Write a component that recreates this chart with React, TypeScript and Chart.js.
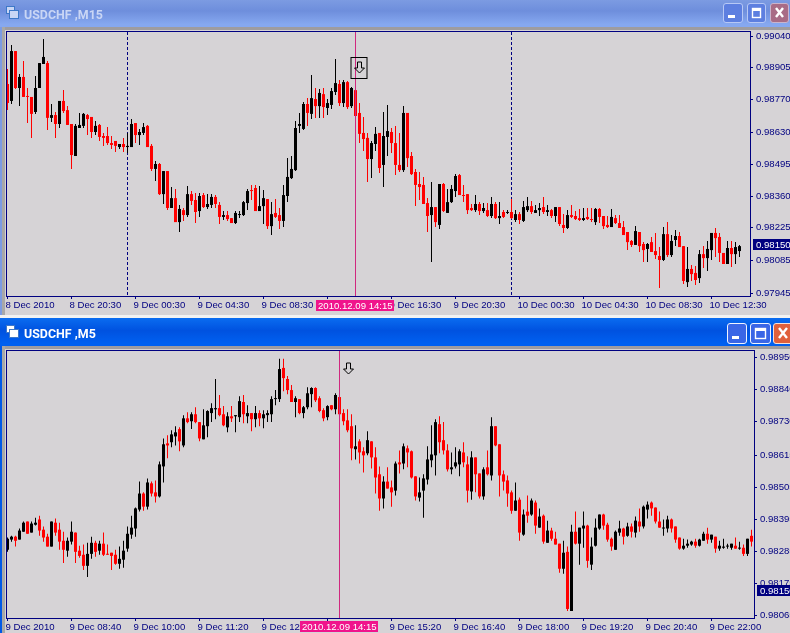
import React, { useEffect, useRef } from "react";
import { Chart, registerables } from "chart.js";

Chart.register(...registerables);

// Prices in points (1/100000).
const m15Open = [98836,98764,98976,98819,98866,98785,98781,98717,98819,98921,
98925,98692,98704,98666,98764,98725,98666,98530,98649,98658,
98704,98696,98632,98662,98615,98615,98585,98594,98568,98581,
98568,98568,98670,98619,98628,98658,98573,98475,98496,98368,
98466,98309,98351,98249,98300,98279,98368,98343,98296,98364,
98313,98322,98356,98322,98271,98279,98266,98245,98279,98279,
98330,98385,98394,98296,98317,98347,98232,98288,98279,98254,
98360,98436,98470,98658,98645,98751,98709,98772,98742,98793,
98734,98747,98802,98836,98755,98844,98742,98810,98713,98628,
98607,98517,98581,98628,98492,98611,98632,98585,98492,98470,
98713,98530,98462,98411,98407,98330,98279,98313,98237,98411,
98288,98334,98381,98449,98364,98368,98309,98300,98326,98296,
98300,98275,98326,98266,98292,98288,98292,98258,98283,98254,
98300,98317,98288,98300,98313,98292,98300,98275,98313,98237,
98224,98279,98275,98266,98258,98271,98262,98249,98305,98275,
98237,98228,98266,98245,98228,98207,98169,98152,98207,98156,
98135,98164,98126,98105,98088,98198,98109,98173,98190,98147,
97994,98050,98033,98011,98113,98096,98130,98203,98186,98118,
98071,98139,98113,98126];
const m15High = [98900,99002,98976,98878,98934,98819,98781,98870,98925,99027,
98934,98751,98717,98764,98810,98742,98666,98666,98713,98713,
98709,98696,98679,98666,98628,98653,98615,98594,98581,98607,
98628,98687,98670,98645,98670,98662,98581,98509,98500,98466,
98466,98398,98390,98322,98309,98402,98381,98373,98373,98373,
98368,98368,98364,98334,98296,98296,98266,98296,98296,98339,
98390,98407,98407,98402,98385,98347,98334,98347,98309,98407,
98521,98530,98679,98713,98759,98776,98874,98819,98815,98819,
98772,98819,98942,98853,98853,98849,98823,98810,98755,98696,
98628,98594,98653,98628,98717,98747,98649,98658,98628,98742,
98713,98547,98475,98462,98441,98351,98419,98313,98411,98415,
98390,98407,98453,98453,98407,98368,98326,98364,98334,98330,
98330,98356,98334,98334,98300,98300,98347,98300,98292,98339,
98356,98339,98322,98330,98356,98322,98305,98313,98313,98283,
98300,98322,98296,98305,98309,98309,98309,98309,98309,98275,
98275,98305,98279,98279,98254,98207,98173,98232,98207,98164,
98160,98186,98203,98143,98228,98249,98194,98215,98207,98147,
98143,98067,98062,98130,98147,98169,98203,98224,98203,98118,
98169,98169,98164,98152];
const m15Low = [98725,98751,98815,98742,98781,98670,98607,98709,98819,98921,
98640,98675,98607,98649,98713,98662,98475,98530,98649,98649,
98619,98607,98619,98594,98573,98577,98560,98547,98560,98547,
98543,98568,98585,98577,98619,98568,98466,98424,98364,98326,
98300,98309,98249,98207,98254,98271,98322,98245,98271,98309,
98305,98309,98309,98241,98258,98254,98245,98241,98266,98275,
98300,98343,98296,98296,98241,98220,98194,98266,98220,98228,
98334,98432,98466,98628,98640,98658,98687,98692,98692,98692,
98704,98730,98789,98742,98738,98730,98734,98700,98585,98551,
98419,98436,98551,98458,98398,98530,98543,98449,98462,98462,
98483,98449,98317,98343,98326,98207,98079,98228,98220,98292,
98288,98330,98356,98364,98334,98283,98296,98292,98279,98288,
98271,98266,98262,98241,98266,98283,98262,98249,98241,98249,
98292,98283,98288,98275,98283,98275,98266,98249,98232,98203,
98220,98266,98258,98254,98254,98258,98249,98237,98245,98220,
98224,98228,98241,98224,98194,98130,98143,98152,98122,98079,
98079,98122,98092,97969,98084,98101,98101,98147,98143,97986,
97973,97999,97982,97990,98054,98041,98088,98101,98079,98071,
98071,98058,98071,98101];
const m15Close = [98755,98976,98819,98866,98781,98781,98709,98819,98925,98951,
98692,98704,98666,98764,98721,98662,98534,98658,98662,98709,
98687,98632,98658,98611,98607,98585,98577,98573,98581,98568,
98573,98666,98619,98632,98653,98568,98475,98496,98368,98466,
98309,98351,98249,98305,98279,98368,98339,98292,98360,98313,
98326,98356,98326,98271,98279,98262,98245,98288,98283,98334,
98381,98381,98296,98317,98351,98232,98283,98271,98254,98364,
98441,98475,98649,98666,98751,98713,98776,98742,98798,98738,
98755,98806,98840,98755,98844,98738,98819,98700,98624,98602,
98517,98585,98624,98479,98615,98636,98585,98492,98470,98713,
98521,98453,98407,98398,98326,98275,98313,98249,98411,98296,
98334,98390,98445,98364,98360,98300,98300,98326,98296,98309,
98275,98326,98266,98275,98271,98292,98266,98283,98258,98313,
98317,98292,98300,98309,98292,98300,98275,98313,98241,98224,
98279,98271,98262,98258,98266,98262,98258,98305,98271,98232,
98228,98271,98245,98224,98194,98164,98152,98211,98147,98130,
98156,98122,98109,98088,98198,98109,98169,98190,98143,97999,
98050,98028,98003,98113,98096,98135,98203,98181,98118,98071,
98139,98113,98143,98147];
const m15TickLabels = ["8 Dec 2010","8 Dec 20:30","9 Dec 00:30","9 Dec 04:30","9 Dec 08:30","9 Dec 12:30","9 Dec 16:30","9 Dec 20:30","10 Dec 00:30","10 Dec 04:30","10 Dec 08:30","10 Dec 12:30"];
const m15PriceTicks = [99040,98905,98770,98630,98495,98360,98225,98085,97945];
const m15Separators = [30, 126];

const m5Open = [98291,98326,98336,98326,98353,98388,98350,98377,98395,98360,
98336,98302,98384,98360,98322,98288,98319,98350,98288,98274,
98236,98277,98315,98288,98312,98277,98281,98274,98243,98257,
98295,98343,98364,98429,98484,98439,98519,98488,98474,98577,
98656,98660,98680,98705,98649,98742,98732,98756,98729,98670,
98715,98760,98773,98777,98756,98711,98749,98749,98746,98798,
98749,98760,98739,98760,98742,98753,98756,98808,98808,98915,
98877,98839,98798,98808,98760,98780,98825,98846,98811,98770,
98746,98787,98773,98815,98760,98735,98715,98636,98663,98629,
98622,98663,98608,98550,98467,98525,98505,98494,98591,98587,
98639,98629,98543,98470,98494,98532,98598,98615,98722,98667,
98632,98567,98577,98584,98625,98584,98491,98608,98553,98474,
98574,98546,98715,98653,98550,98529,98488,98425,98463,98343,
98422,98412,98453,98367,98408,98315,98357,98329,98312,98226,
98284,98081,98353,98312,98364,98374,98240,98305,98364,98412,
98377,98329,98291,98350,98364,98339,98371,98350,98388,98371,
98429,98453,98436,98388,98364,98364,98395,98371,98333,98295,
98305,98309,98319,98305,98322,98346,98326,98336,98295,98298,
98302,98298,98305,98295,98298,98277,98339];
const m5High = [98333,98339,98339,98364,98388,98388,98388,98401,98408,98371,
98346,98388,98398,98384,98353,98333,98388,98350,98305,98309,
98315,98336,98322,98322,98350,98309,98281,98291,98302,98322,
98371,98408,98436,98525,98488,98536,98525,98529,98594,98673,
98684,98701,98715,98711,98753,98763,98763,98780,98729,98773,
98770,98794,98877,98822,98784,98763,98784,98753,98818,98822,
98787,98760,98784,98770,98770,98770,98818,98839,98946,98946,
98887,98856,98818,98808,98784,98849,98849,98849,98818,98777,
98787,98787,98828,98815,98773,98773,98756,98718,98670,98643,
98698,98663,98643,98577,98543,98574,98529,98594,98632,98656,
98649,98632,98543,98539,98550,98646,98718,98739,98749,98729,
98653,98625,98643,98636,98660,98612,98629,98608,98553,98574,
98632,98746,98715,98653,98563,98546,98494,98522,98470,98429,
98477,98467,98460,98433,98412,98391,98367,98353,98312,98322,
98302,98377,98422,98367,98422,98377,98333,98398,98412,98415,
98384,98333,98357,98391,98367,98384,98381,98405,98433,98443,
98457,98457,98436,98422,98395,98408,98398,98371,98333,98329,
98326,98322,98329,98329,98353,98367,98343,98336,98322,98329,
98312,98312,98333,98319,98309,98329,98360];
const m5Low = [98284,98319,98302,98326,98353,98346,98350,98374,98339,98319,
98302,98302,98339,98291,98246,98267,98309,98246,98264,98222,
98198,98260,98267,98274,98270,98274,98222,98240,98226,98229,
98284,98329,98336,98422,98425,98429,98474,98453,98470,98522,
98605,98643,98649,98629,98643,98725,98705,98725,98663,98670,
98677,98729,98739,98749,98715,98694,98729,98694,98729,98725,
98725,98698,98711,98715,98708,98729,98729,98787,98798,98835,
98825,98798,98746,98756,98742,98773,98780,98798,98763,98732,
98735,98770,98756,98756,98718,98694,98598,98601,98587,98556,
98615,98570,98484,98425,98433,98501,98439,98477,98553,98567,
98574,98536,98460,98457,98401,98515,98574,98546,98622,98618,
98560,98550,98570,98543,98574,98453,98463,98488,98467,98463,
98546,98529,98646,98474,98494,98439,98415,98425,98322,98339,
98384,98408,98346,98367,98312,98315,98322,98309,98212,98209,
98081,98081,98309,98240,98298,98229,98222,98302,98360,98360,
98319,98288,98291,98339,98309,98336,98333,98333,98353,98364,
98398,98408,98381,98367,98339,98350,98350,98315,98291,98291,
98298,98305,98298,98302,98322,98312,98315,98281,98288,98295,
98295,98291,98295,98291,98270,98270,98302];
const m5Close = [98329,98336,98322,98357,98384,98346,98381,98384,98357,98333,
98302,98388,98350,98319,98291,98322,98353,98284,98270,98236,
98277,98315,98284,98312,98274,98274,98270,98243,98260,98288,
98346,98367,98433,98484,98439,98522,98484,98474,98584,98653,
98649,98687,98694,98663,98742,98729,98756,98729,98673,98718,
98767,98777,98777,98753,98718,98749,98742,98753,98801,98756,
98760,98739,98760,98742,98756,98760,98808,98811,98911,98880,
98839,98798,98811,98760,98780,98828,98846,98804,98767,98742,
98784,98773,98822,98756,98732,98701,98639,98646,98625,98615,
98667,98608,98539,98467,98525,98501,98488,98587,98584,98646,
98625,98539,98474,98488,98536,98601,98618,98729,98660,98632,
98567,98574,98591,98629,98591,98494,98608,98550,98474,98567,
98550,98715,98649,98546,98525,98484,98425,98460,98350,98412,
98408,98460,98374,98405,98319,98357,98329,98309,98226,98281,
98088,98353,98312,98367,98374,98253,98302,98367,98412,98374,
98326,98302,98353,98364,98336,98371,98353,98391,98371,98439,
98446,98433,98388,98367,98367,98395,98364,98326,98295,98305,
98312,98319,98305,98326,98346,98326,98343,98295,98305,98302,
98305,98312,98295,98298,98277,98329,98319];
const m5TickLabels = ["9 Dec 2010","9 Dec 08:40","9 Dec 10:00","9 Dec 11:20","9 Dec 12:40","9 Dec 14:00","9 Dec 15:20","9 Dec 16:40","9 Dec 18:00","9 Dec 19:20","9 Dec 20:40","9 Dec 22:00"];
const m5PriceTicks = [98950,98840,98730,98615,98505,98395,98285,98175,98065];

const NAVY = "#000080";
const BG = "#D6D3D6";
const PINK = "#F0148C";
const MARKER = "#D0287F";
const FONT_SIZE = 9.6;
const FONT = `${FONT_SIZE}px 'Liberation Sans'`;

type ChartCfg = {
  opens: number[]; highs: number[]; lows: number[]; closes: number[];
  tickLabels: string[]; priceTicks: number[];
  yMin: number; yMax: number; xMax: number;
  top: number; xHeight: number; yWidth: number;
  separators: number[]; crossIndex: number; crossLabel: string;
  lastPrice: number; tagLeft: number;
  arrowDx: number; arrowY: number; arrowBox: boolean; crossLabelLeft: number; crossLabelY: number;
};

function drawChart(canvas: HTMLCanvasElement, c: ChartCfg) {
  const col = c.opens.map((o, i) => (c.closes[i] >= o ? "#000000" : "#FF0000"));
  const overlay = {
    id: "overlay",
    beforeDatasetsDraw(chart: any) {
      const { ctx, chartArea: a, scales } = chart;
      ctx.save();
      ctx.strokeStyle = NAVY;
      ctx.lineWidth = 1;
      ctx.setLineDash([3, 2]);
      c.separators.forEach((s) => {
        const x = Math.floor(scales.x.getPixelForValue(s)) + 0.5;
        ctx.beginPath(); ctx.moveTo(x, a.top); ctx.lineTo(x, a.bottom); ctx.stroke();
      });
      ctx.restore();
    },
    afterDatasetsDraw(chart: any) {
      const { ctx, chartArea: a, scales, width } = chart;
      ctx.save();
      ctx.strokeStyle = NAVY;
      ctx.lineWidth = 1;
      ctx.strokeRect(a.left - 0.5, a.top - 0.5, a.right - a.left + 1, a.bottom - a.top + 1);
      const cx = Math.floor(scales.x.getPixelForValue(c.crossIndex)) + 0.5;
      ctx.strokeStyle = MARKER;
      ctx.beginPath(); ctx.moveTo(cx, a.top); ctx.lineTo(cx, a.bottom); ctx.stroke();
      // arrow mark
      const ax = cx + c.arrowDx, ay = c.arrowY;
      ctx.strokeStyle = "#000";
      if (c.arrowBox) ctx.strokeRect(ax - 6.5 + 0, ay - 4.5, 16, 21);
      ctx.beginPath();
      ctx.moveTo(ax - 0, ay); ctx.lineTo(ax + 4, ay); ctx.lineTo(ax + 4, ay + 6); ctx.lineTo(ax + 7, ay + 6);
      ctx.lineTo(ax + 2, ay + 11); ctx.lineTo(ax - 3, ay + 6); ctx.lineTo(ax, ay + 6); ctx.closePath();
      ctx.stroke();
      // pink date box
      ctx.font = FONT;
      ctx.textBaseline = "middle";
      ctx.textAlign = "left";
      ctx.fillStyle = PINK;
      ctx.fillRect(c.crossLabelLeft, c.crossLabelY, 78, 11);
      ctx.fillStyle = "#fff";
      ctx.fillText(c.crossLabel, c.crossLabelLeft + 2, c.crossLabelY + 6);
      // last price tag
      const ty = Math.round(scales.y.getPixelForValue(c.lastPrice));
      ctx.fillStyle = NAVY;
      ctx.fillRect(c.tagLeft, ty - 6, width - c.tagLeft, 11);
      ctx.fillStyle = "#fff";
      ctx.fillText((c.lastPrice / 100000).toFixed(5), c.tagLeft + 3, ty);
      ctx.restore();
    },
  };
  return new Chart(canvas, {
    type: "bar",
    data: {
      datasets: [
        {
          label: "range",
          data: c.highs.map((h, i) => ({ x: i, y: [c.lows[i], h] })),
          backgroundColor: col, barThickness: 1, grouped: false, order: 2,
          inflateAmount: 0, borderWidth: 0, minBarLength: 1,
        },
        {
          label: "body",
          data: c.opens.map((o, i) => ({ x: i, y: [o, c.closes[i]] })),
          backgroundColor: col, barThickness: 3, grouped: false, order: 1,
          inflateAmount: 0, borderWidth: 0, minBarLength: 1,
        },
      ],
    } as any,
    plugins: [overlay],
    options: {
      animation: false,
      responsive: false,
      devicePixelRatio: 1,
      layout: { padding: { left: 7, top: c.top, right: 0, bottom: 0 } },
      plugins: { legend: { display: false }, tooltip: { enabled: false } },
      scales: {
        x: {
          type: "linear",
          offset: false,
          min: -0.125,
          max: c.xMax,
          afterFit: (s: any) => { s.height = c.xHeight; },
          afterBuildTicks: (s: any) => { s.ticks = c.tickLabels.map((_, k) => ({ value: k * 16 })); },
          border: { display: false },
          grid: { drawOnChartArea: false, drawTicks: true, tickLength: 3, color: NAVY, offset: false },
          ticks: {
            autoSkip: false, maxRotation: 0, minRotation: 0, align: "start", padding: 1, labelOffset: -2,
            color: NAVY, font: { family: "'Liberation Sans'", size: FONT_SIZE },
            callback: (v: any) => c.tickLabels[Math.round(v / 16)],
          },
        },
        y: {
          position: "right",
          min: c.yMin,
          max: c.yMax,
          afterFit: (s: any) => { s.width = c.yWidth; },
          afterBuildTicks: (s: any) => { s.ticks = c.priceTicks.map((value) => ({ value })); },
          border: { display: false },
          grid: { drawOnChartArea: false, drawTicks: true, tickLength: 3, color: NAVY },
          ticks: {
            autoSkip: false, padding: 3, color: NAVY, font: { family: "'Liberation Sans'", size: FONT_SIZE },
            callback: (v: any) => (v / 100000).toFixed(5),
          },
        },
      },
    } as any,
  });
}

const box = (l: number, t: number, w: number, h: number, extra: React.CSSProperties = {}): React.CSSProperties => ({
  position: "absolute", left: l, top: t, width: w, height: h, ...extra,
});

function WinIcon({ top, pale }: { top: number; pale: boolean }) {
  const c1 = pale ? "#C9D6F5" : "#FFFFFF";
  return (
    <>
      <div style={box(6, top + 6, 9, 8, { background: c1, border: "1px solid #3E78C8", boxSizing: "border-box" })} />
      <div style={box(9, top + 10, 10, 9, { background: c1, border: "1px solid #3E78C8", boxSizing: "border-box" })} />
    </>
  );
}

function Btn({ l, t, w, h, bg, edge, glyph }: { l: number; t: number; w: number; h: number; bg: string; edge: string; glyph: "min" | "max" | "x" }) {
  return (
    <div style={box(l, t, w, h, { background: bg, border: `1px solid ${edge}`, borderRadius: 3, boxSizing: "border-box" })}>
      <svg width={w - 2} height={h - 2} style={{ display: "block" }}>
        {glyph === "min" && <rect x={4} y={h - 9} width={7} height={3} fill="#fff" />}
        {glyph === "max" && <rect x={4.5} y={4.5} width={w - 11} height={h - 11} fill="none" stroke="#fff" strokeWidth={1.4} />}
        {glyph === "max" && <rect x={4} y={4} width={w - 10} height={3} fill="#fff" />}
        {glyph === "x" && <path d={`M5 4 L${w - 7} ${h - 7} M${w - 7} 4 L5 ${h - 7}`} stroke="#fff" strokeWidth={2.4} />}
      </svg>
    </div>
  );
}

export default function App() {
  const a = useRef<HTMLCanvasElement>(null);
  const b = useRef<HTMLCanvasElement>(null);
  useEffect(() => {
    const c1 = drawChart(a.current!, {
      opens: m15Open, highs: m15High, lows: m15Low, closes: m15Close,
      tickLabels: m15TickLabels, priceTicks: m15PriceTicks,
      yMin: 97935, yMax: 99057, xMax: 185.625,
      top: 32, xHeight: 20, yWidth: 40,
      separators: m15Separators, crossIndex: 87, crossLabel: "2010.12.09 14:15",
      lastPrice: 98150, tagLeft: 753,
      arrowDx: 2, arrowY: 62, arrowBox: true, crossLabelLeft: 316, crossLabelY: 300,
    });
    const c2 = drawChart(b.current!, {
      opens: m5Open, highs: m5High, lows: m5Low, closes: m5Close,
      tickLabels: m5TickLabels, priceTicks: m5PriceTicks,
      yMin: 98057, yMax: 98973, xMax: 186.625,
      top: 33, xHeight: 15, yWidth: 36,
      separators: [], crossIndex: 83, crossLabel: "2010.12.09 14:15",
      lastPrice: 98150, tagLeft: 757,
      arrowDx: 7, arrowY: 45, arrowBox: false, crossLabelLeft: 300, crossLabelY: 303,
    });
    return () => { c1.destroy(); c2.destroy(); };
  }, []);
  const title: React.CSSProperties = { position: "absolute", left: 24, fontFamily: "Roboto", fontWeight: 700, fontSize: 13.5, lineHeight: "16px", whiteSpace: "nowrap", transform: "scaleX(0.92)", transformOrigin: "left center" };
  return (
    <div style={{ position: "fixed", left: 0, top: 0, width: 790, height: 633, overflow: "hidden", background: BG }}>
      {/* upper window */}
      <div style={box(0, 0, 790, 27, { background: "linear-gradient(#7C9BE2 0%, #6E8EDC 40%, #86A8F0 90%)" })} />
      <div style={box(0, 27, 790, 3, { background: "#9E9CA0" })} />
      <div style={box(0, 27, 2, 290, { background: "#7C9BE2" })} />
      <div style={box(2, 27, 3, 290, { background: "#A8A8A8" })} />
      <canvas ref={a} width={790} height={316} style={{ position: "absolute", left: 0, top: 0, width: 790, height: 316 }} />
      <div style={{ ...title, top: 6, color: "#C9D6F5" }}>USDCHF ,M15</div>
      <WinIcon top={0} pale />
      <Btn l={723} t={3} w={20} h={20} bg="#5D7FE0" edge="#B7C8F5" glyph="min" />
      <Btn l={747} t={3} w={19} h={20} bg="#5D7FE0" edge="#B7C8F5" glyph="max" />
      <Btn l={770} t={3} w={19} h={20} bg="#A86C86" edge="#C9B4CC" glyph="x" />
      <div style={box(0, 315, 790, 3, { background: "#F2F2F2" })} />
      {/* lower window */}
      <div style={box(0, 318, 790, 28, { background: "linear-gradient(#0A6CF0 0%, #0052E0 45%, #0060F0 90%)" })} />
      <div style={box(0, 346, 790, 3, { background: "#9E9CA0" })} />
      <div style={box(0, 346, 2, 287, { background: "#0058E6" })} />
      <div style={box(2, 346, 3, 287, { background: "#A8A8A8" })} />
      <canvas ref={b} width={790} height={315} style={{ position: "absolute", left: 0, top: 318, width: 790, height: 315 }} />
      <div style={{ ...title, top: 325, color: "#FFFFFF" }}>USDCHF ,M5</div>
      <WinIcon top={319} pale={false} />
      <Btn l={727} t={323} w={20} h={21} bg="#3A66E6" edge="#F0F4FF" glyph="min" />
      <Btn l={750} t={323} w={21} h={21} bg="#3A66E6" edge="#F0F4FF" glyph="max" />
      <Btn l={773} t={323} w={20} h={21} bg="#E0603C" edge="#F5E0D8" glyph="x" />
    </div>
  );
}
